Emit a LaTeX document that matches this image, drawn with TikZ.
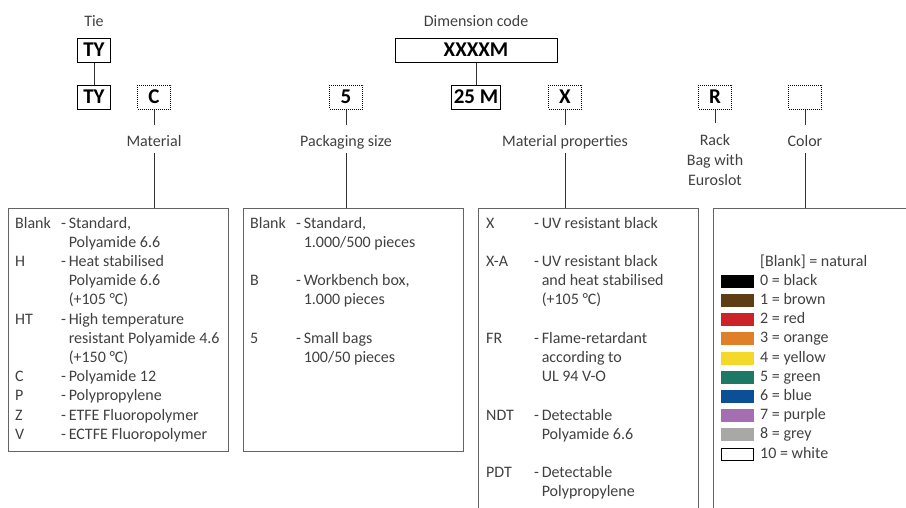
\documentclass[tikz,border=0pt]{standalone}
\usepackage{fontspec}
\setmainfont{Carlito}
\usetikzlibrary{positioning}

\definecolor{textgray}{RGB}{64,64,64}
\definecolor{boxgray}{RGB}{100,100,100}
\definecolor{cbrown}{RGB}{94,60,22}
\definecolor{cred}{RGB}{204,34,41}
\definecolor{corange}{RGB}{224,127,42}
\definecolor{cyellow}{RGB}{245,217,42}
\definecolor{cgreen}{RGB}{29,120,102}
\definecolor{cblue}{RGB}{11,79,150}
\definecolor{cpurple}{RGB}{164,111,176}
\definecolor{cgrey}{RGB}{168,168,166}

\tikzset{
	codebox/.style={draw=black, line width=1pt, minimum width=33pt, minimum height=24pt, inner sep=0pt, font=\fontsize{21}{24}\selectfont\bfseries},
	optbox/.style={codebox, dash pattern=on 1pt off 1pt},
	lblbase/.style={text=textgray, font=\fontsize{16}{19.2}\selectfont, inner xsep=3pt, inner ysep=5pt, align=center},
	lbl/.style={lblbase, text height=16pt, text depth=2pt},
	listbox/.style={draw=boxgray, line width=1pt, anchor=north west, inner sep=0pt, minimum width=220pt},
	listtext/.style={anchor=north west, inner sep=0pt, text=textgray, font=\fontsize{16}{19.2}\selectfont},
	conn/.style={line width=1pt, draw=black!80},
	swatch/.style={minimum width=32pt, minimum height=12pt, inner sep=0pt, line width=1pt}
}

\begin{document}
\begin{tikzpicture}[x=1pt,y=-1pt]
		
		% Marco
		\useasboundingbox (0,0) rectangle (906,507);
		\clip (0,0) rectangle (906,507);
		
		% Codigo superior
		\node[lbl] (ltie) at (94,19) {Tie};
		\node[codebox] (tytop) at (94,50) {TY};
		\node[codebox] (tybot) at (94,97) {TY};
		\node[lbl] (ldim) at (476,19) {Dimension code};
		\node[codebox, minimum width=162pt] (xxxxm) at (476,50) {XXXXM};
		\node[codebox, minimum width=49pt] (m25) at (476,97) {25 M};
		
		% Opciones
		\node[optbox] (optc) at (154,97) {C};
		\node[optbox] (opt5) at (346,97) {5};
		\node[optbox] (optx) at (565,97) {X};
		\node[optbox] (optr) at (715,97) {R};
		\node[optbox] (optcol) at (805,97) {};
		
		% Etiquetas
		\node[lbl] (lmat) at (154,139) {Material};
		\node[lbl] (lpack) at (346,139) {Packaging size};
		\node[lbl] (lprop) at (565,139) {Material properties};
		\node[lblbase, anchor=north, inner ysep=11pt, font=\fontsize{16}{20}\selectfont] (lrack) at (715,123) {Rack\\Bag with\\Euroslot};
		\node[lbl] (lcol) at (805,139) {Color};
		
		% Cajas
		\node[listbox, minimum height=243pt] (matbox) at (8,208) {};
		\node[listbox, minimum height=243pt] (packbox) at (243,208) {};
		\node[listbox, minimum height=330pt] (propbox) at (478,208) {};
		\node[listbox, minimum height=330pt] (colbox) at (713,208) {};
		
		% Lineas
		\draw[conn] (tytop) -- (tybot);
		\draw[conn] (xxxxm) -- (m25);
		\draw[conn] (optc) -- (lmat);
		\draw[conn] (lmat) -- (lmat |- matbox.north);
		\draw[conn] (opt5) -- (lpack);
		\draw[conn] (lpack) -- (lpack |- packbox.north);
		\draw[conn] (optx) -- (lprop);
		\draw[conn] (lprop) -- (lprop |- propbox.north);
		\draw[conn] (optr) -- (lrack);
		\draw[conn] (optcol) -- (lcol);
		\draw[conn] (lcol) -- (lcol |- colbox.north);
		
		% Textos
		\node[listtext] (matlist) at (15,214.5) {\begin{tabular}{@{}p{46pt}@{}l@{\,}l@{}}
			Blank & - & Standard,\\
			& & Polyamide 6.6\\
			H & - & Heat stabilised\\
			& & Polyamide 6.6\\
			& & (+105 °C)\\
			HT & - & High temperature\\
			& & resistant Polyamide 4.6\\
			& & (+150 °C)\\
			C & - & Polyamide 12\\
			P & - & Polypropylene\\
			Z & - & ETFE Fluoropolymer\\
			V & - & ECTFE Fluoropolymer
		\end{tabular}};
		\node[listtext] (packlist) at (250,214.5) {\begin{tabular}{@{}p{46pt}@{}l@{\,}l@{}}
			Blank & - & Standard,\\
			& & 1.000/500 pieces\\
			& & \\
			B & - & Workbench box,\\
			& & 1.000 pieces\\
			& & \\
			5 & - & Small bags\\
			& & 100/50 pieces
		\end{tabular}};
		\node[listtext] (proplist) at (486,214.5) {\begin{tabular}{@{}p{48pt}@{}l@{\,}l@{}}
			X & - & UV resistant black\\
			& & \\
			X-A & - & UV resistant black\\
			& & and heat stabilised\\
			& & (+105 °C)\\
			& & \\
			FR & - & Flame-retardant\\
			& & according to\\
			& & UL 94 V-O\\
			& & \\
			NDT & - & Detectable\\
			& & Polyamide 6.6\\
			& & \\
			PDT & - & Detectable\\
			& & Polypropylene
		\end{tabular}};
		
		% Colores
		\node[listtext, anchor=west, text height=11pt, text depth=3pt] (colblank) at (760,262) {[Blank] = natural};
		\foreach \n/\c/\t/\d [count=\i] in {0/black/black/black, 1/cbrown/brown/cbrown, 2/cred/red/cred, 3/corange/orange/corange, 4/cyellow/yellow/cyellow, 5/cgreen/green/cgreen, 6/cblue/blue/cblue, 7/cpurple/purple/cpurple, 8/cgrey/grey/cgrey, 10/white/white/black}{
			\node[swatch, fill=\c, draw=\d] (sw\i) at (737,262+19.2*\i) {};
			\node[listtext, anchor=west, text height=11pt, text depth=3pt] (col\i) at (760,262+19.2*\i) {\n{} = \t};
		}
		
	\end{tikzpicture}
\end{document}
